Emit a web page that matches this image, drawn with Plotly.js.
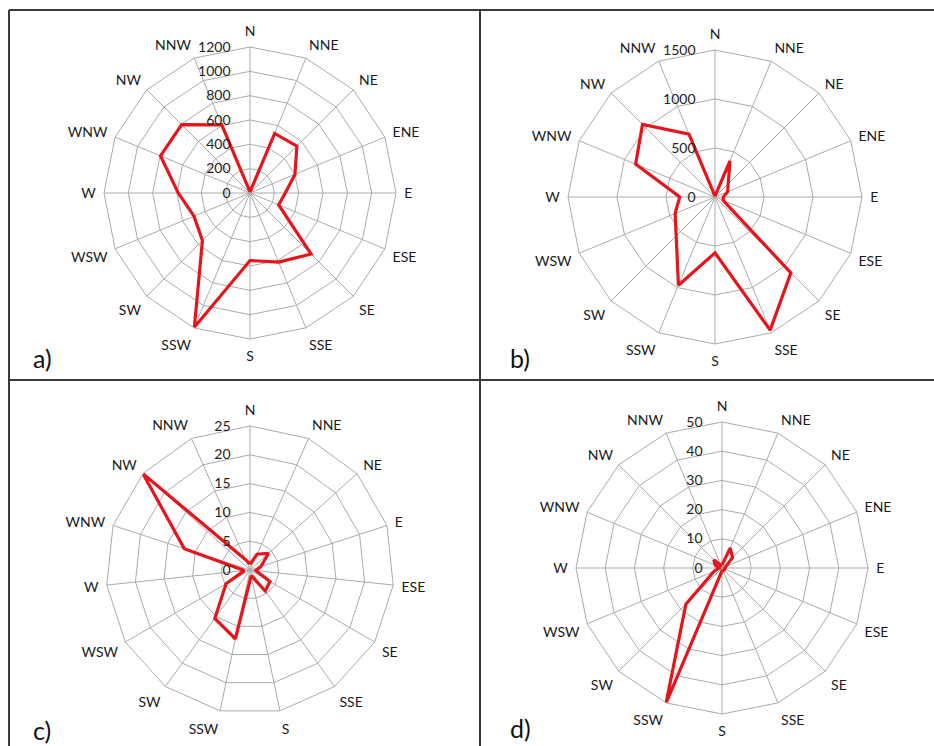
<!DOCTYPE html>
<html>
<head>
<meta charset="utf-8">
<script src="https://cdn.plot.ly/plotly-3.0.1.min.js"></script>
<style>html,body{margin:0;padding:0;background:#fff;}#chart{width:934px;height:746px;}</style>
</head>
<body>
<div id="chart"></div>
<script>
// Direction categories
const dirs16 = ['N','NNE','NE','ENE','E','ESE','SE','SSE','S','SSW','SW','WSW','W','WNW','NW','NNW'];
const dirs15 = ['N','NNE','NE','E','ESE','SE','SSE','S','SSW','SW','WSW','W','WNW','NW','NNW'];

// Series values
const valuesA = [10, 530, 545, 400, 290, 255, 710, 615, 555, 1195, 553, 498, 590, 796, 794, 606];
const valuesB = [10, 400, 190, 140, 85, 90, 1095, 1470, 570, 975, 560, 440, 360, 877, 1046, 694];
const valuesC = [1, 3, 4.3, 2, 1, 4, 4.5, 1, 12.2, 10.4, 4.8, 1, 12, 25, 2];
const valuesD = [1, 7.4, 5.1, 1.5, 1, 1, 1, 1, 1, 50, 17.5, 3, 1, 2.5, 4, 1];

// Radial axis scales
const rangeA = [0, 1200], dtickA = 200;
const rangeB = [0, 1500], dtickB = 500;
const rangeC = [0, 25], dtickC = 5;
const rangeD = [0, 50], dtickD = 10;

const panelLabels = ['a)', 'b)', 'c)', 'd)'];

const W = 934, H = 746;
function dom(cx, cy, r) {
  return {
    x: [(cx - r) / W, (cx + r) / W],
    y: [(H - cy - r) / H, (H - cy + r) / H]
  };
}
function closed(arr) { return arr.concat([arr[0]]); }

const FONT = 'Lato, "Open Sans", "Liberation Sans", sans-serif';
const GRID = '#ababab';

function polarLayout(domain, range, dtick, cats) {
  return {
    domain: domain,
    bgcolor: 'rgba(0,0,0,0)',
    gridshape: 'linear',
    radialaxis: {
      range: range, dtick: dtick, angle: 90, side: 'counterclockwise',
      showline: false, gridcolor: GRID, gridwidth: 1,
      ticks: 'outside', ticklen: 14, tickcolor: 'rgba(0,0,0,0)',
      tickangle: 90,
      tickfont: {family: FONT, size: 14, color: '#222'}
    },
    angularaxis: {
      type: 'category', categoryarray: cats, direction: 'clockwise', rotation: 90,
      showline: true, linecolor: GRID, linewidth: 1, gridcolor: GRID,
      ticks: 'outside', ticklen: 5, tickcolor: 'rgba(0,0,0,0)',
      tickfont: {family: FONT, size: 14, color: '#1a1a1a'}
    }
  };
}

function trace(vals, cats, sub) {
  return {
    type: 'scatterpolar', subplot: sub, mode: 'lines',
    r: closed(vals), theta: closed(cats),
    line: {color: '#e8141b', width: 3.2},
    hoverinfo: 'skip', showlegend: false
  };
}

const data = [
  trace(valuesA, dirs16, 'polar'),
  trace(valuesB, dirs16, 'polar2'),
  trace(valuesC, dirs15, 'polar3'),
  trace(valuesD, dirs16, 'polar4')
];

const lineStyle = {color: '#3a3a3a', width: 2};
const layout = {
  width: W, height: H,
  margin: {l: 0, r: 0, t: 0, b: 0},
  paper_bgcolor: '#fff',
  showlegend: false,
  font: {family: FONT},
  polar: polarLayout(dom(250, 193, 146), rangeA, dtickA, dirs16),
  polar2: polarLayout(dom(715, 197, 147), rangeB, dtickB, dirs16),
  polar3: polarLayout(dom(250, 570, 144), rangeC, dtickC, dirs15),
  polar4: polarLayout(dom(722, 568, 146), rangeD, dtickD, dirs16),
  shapes: [
    {type: 'line', xref: 'paper', yref: 'paper', x0: 9/W, x1: 1, y0: (H-10)/H, y1: (H-10)/H, line: lineStyle},
    {type: 'line', xref: 'paper', yref: 'paper', x0: 9/W, x1: 9/W, y0: 0, y1: (H-10)/H, line: lineStyle},
    {type: 'line', xref: 'paper', yref: 'paper', x0: 480/W, x1: 480/W, y0: 0, y1: (H-10)/H, line: lineStyle},
    {type: 'line', xref: 'paper', yref: 'paper', x0: 9/W, x1: 1, y0: (H-380)/H, y1: (H-380)/H, line: lineStyle}
  ],
  annotations: [
    {text: panelLabels[0], x: 42/W, y: (H-358)/H},
    {text: panelLabels[1], x: 520/W, y: (H-358)/H},
    {text: panelLabels[2], x: 42/W, y: (H-730)/H},
    {text: panelLabels[3], x: 520/W, y: (H-728)/H}
  ].map(a => Object.assign(a, {xref: 'paper', yref: 'paper', showarrow: false,
      xanchor: 'center', yanchor: 'middle', font: {family: FONT, size: 25, color: '#111'}}))
};

Plotly.newPlot('chart', data, layout, {staticPlot: true, displayModeBar: false});
</script>
</body>
</html>
